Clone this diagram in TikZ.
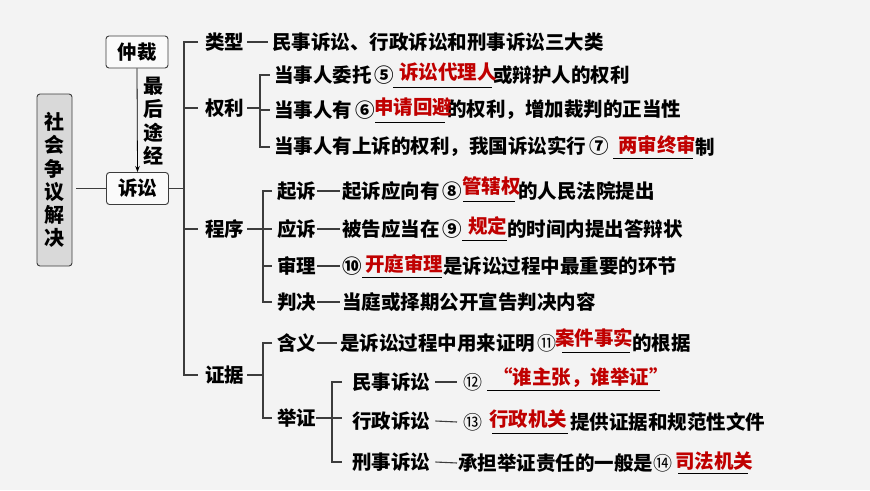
\documentclass[tikz,border=0pt]{standalone}
\usepackage{fontspec}
\setmainfont{Noto Sans CJK SC}[BoldFont={Noto Sans CJK SC Black}]
\usetikzlibrary{arrows.meta}
\definecolor{bg}{RGB}{243,243,243}
\definecolor{lc}{RGB}{60,60,60}
\definecolor{ansred}{RGB}{192,0,0}
\definecolor{rootf}{RGB}{217,217,217}
\definecolor{boxf}{RGB}{250,250,250}
\tikzset{
  ln/.style={draw=lc, line width=1.1pt},
  ul/.style={draw=black, line width=0.9pt},
  t/.style={anchor=west, inner sep=0pt, font=\bfseries\fontsize{19.5}{22}\selectfont},
  ans/.style={t, text=ansred},
  num/.style={anchor=west, inner sep=0pt, font=\fontsize{19}{22}\selectfont},
  rootbox/.style={draw=lc, fill=rootf, rounded corners=3pt, line width=0.9pt,
    minimum width=35pt, minimum height=172pt, inner sep=0pt, align=center,
    font=\bfseries\fontsize{20}{23.2}\selectfont},
  catbox/.style={draw=lc, fill=boxf, rounded corners=3pt, line width=0.9pt,
    minimum width=62pt, minimum height=32pt, inner sep=0pt,
    font=\bfseries\fontsize{19.5}{22}\selectfont},
  vtext/.style={inner sep=0pt, align=center, font=\bfseries\fontsize{20}{23.2}\selectfont}
}
\begin{document}
\begin{tikzpicture}[x=1pt,y=-1pt]
\fill[bg] (0,0) rectangle (870,490);
\useasboundingbox (0,0) rectangle (870,490);

% left part
\node[rootbox] (root) at (54.5,180) {社\\会\\争\\议\\解\\决};
\node[catbox] (zc) at (137,52) {仲裁};
\node[catbox] (ss) at (137.5,188.5) {诉讼};
\draw[-{Stealth[length=6pt,width=4.5pt]}, line width=0.8pt, black] (zc.south) -- (ss.north);
\node[vtext] (zj) at (153,121) {最\\后\\途\\经};
\coordinate (rs) at ([xshift=4pt]root.east |- ss.west);
\draw[ln] (rs) -- (ss.west);
\coordinate (tk) at (184,188.5);
\draw[ln] (ss.east) -- (tk);

% level 2 labels
\node[t] (lx) at (205,42) {类型};
\node[t] (ql) at (205,108) {权利};
\node[t] (cx) at (205,229) {程序};
\node[t] (zjj) at (205,375) {证据};
\draw[ln] ([xshift=-7pt]lx.west) -| (tk |- zjj.west) -- ([xshift=-7pt]zjj.west);
\draw[ln] (tk |- ql.west) -- ([xshift=-7pt]ql.west);
\draw[ln] (tk |- cx.west) -- ([xshift=-7pt]cx.west);

% 类型
\node[t] (lx1) at (272,42) {民事诉讼、行政诉讼和刑事诉讼三大类};
\draw[ln] ([xshift=3pt]lx.east) -- ([xshift=-4pt]lx1.west);

% 权利
\node[t] (q1) at (274,75) {当事人委托\,⑤};
\node[t] (q1b) at (493,75) {或辩护人的权利};
\node[ans] (a5) at (399,72) {诉讼代理人};
\draw[ul] (393,87) -- (492,87);
\node[t] (q2) at (274,110) {当事人有\,⑥};
\node[t] (q2b) at (447,110) {的权利，增加裁判的正当性};
\node[ans] (a6) at (374,107) {申请回避};
\draw[ul] (375,122) -- (445,122);
\node[t] (q3) at (274,147) {当事人有上诉的权利，我国诉讼实行\,⑦};
\node[t] (q3b) at (695,147) {制};
\node[ans] (a7) at (618,145) {两审终审};
\draw[ul] (613,158) -- (693,158);
\coordinate (qv) at (260,108);
\draw[ln] ([xshift=3pt]ql.east) -- (qv);
\draw[ln] ([xshift=-4pt]q1.west) -| (qv |- q3.west) -- ([xshift=-4pt]q3.west);
\draw[ln] (qv |- q2.west) -- ([xshift=-4pt]q2.west);

% 程序
\coordinate (cv) at (263,229);
\node[t] (s1) at (277,191) {起诉};
\node[t] (s2) at (277,229) {应诉};
\node[t] (s3) at (277,266) {审理};
\node[t] (s4) at (277,302) {判决};
\draw[ln] ([xshift=3pt]cx.east) -- (cv);
\draw[ln] ([xshift=-5pt]s1.west) -| (cv |- s4.west) -- ([xshift=-5pt]s4.west);
\draw[ln] (cv |- s2.west) -- ([xshift=-5pt]s2.west);
\draw[ln] (cv |- s3.west) -- ([xshift=-5pt]s3.west);

\node[t] (s1t) at (342,191) {起诉应向有\,⑧};
\node[t] (s1b) at (518,191) {的人民法院提出};
\node[ans] (a8) at (462,186) {管辖权};
\draw[ul] (463,201) -- (515,201);
\draw[ln] ([xshift=1pt]s1.east) -- ([xshift=-2pt]s1t.west);

\node[t] (s2t) at (342,229) {被告应当在\,⑨};
\node[t] (s2b) at (507,229) {的时间内提出答辩状};
\node[ans] (a9) at (468,226) {规定};
\draw[ul] (462,240) -- (507,240);
\draw[ln] ([xshift=1pt]s2.east) -- ([xshift=-2pt]s2t.west);

\node[t] (s3t) at (342,266) {⑩};
\node[t] (s3b) at (443,266) {是诉讼过程中最重要的环节};
\node[ans] (a10) at (365,264) {开庭审理};
\draw[ul] (362,277) -- (442,277);
\draw[ln] ([xshift=1pt]s3.east) -- ([xshift=-2pt]s3t.west);

\node[t] (s4t) at (342,302) {当庭或择期公开宣告判决内容};
\draw[ln] ([xshift=1pt]s4.east) -- ([xshift=-2pt]s4t.west);

% 证据
\coordinate (ev) at (263,375);
\node[t] (e1) at (277,343) {含义};
\node[t] (e2) at (277,418) {举证};
\draw[ln] ([xshift=3pt]zjj.east) -- (ev);
\draw[ln] ([xshift=-5pt]e1.west) -| (ev |- e2.west) -- ([xshift=-5pt]e2.west);

\node[t] (e1t) at (340,343) {是诉讼过程中用来证明};
\node[num] (n11) at (537,343) {⑪};
\node[t] (e1b) at (632,343) {的根据};
\node[ans] (a11) at (555,338) {案件事实};
\draw[ul] (562,352) -- (630,352);
\draw[ln] ([xshift=1pt]e1.east) -- ([xshift=-3pt]e1t.west);

\coordinate (jv) at (332,418);
\node[t] (j1) at (352,382) {民事诉讼};
\node[t] (j2) at (352,421) {行政诉讼};
\node[t] (j3) at (352,462) {刑事诉讼};
\draw[ln] ([xshift=-10pt]j1.west) -| (jv |- j3.west) -- ([xshift=-10pt]j3.west);
\draw[ln] (e2.east) -- ([xshift=-10pt]j2.west |- e2.east);

\node[num] (n12) at (463,382) {⑫};
\node[ans] (a12) at (493,378) {“谁主张，谁举证”};
\draw[ul] (487,390) -- (660,390);
\draw[ln] ([xshift=5pt]j1.east) -- ([xshift=-6pt]n12.west);

\node[num] (n13) at (463,422) {⑬};
\node[t] (j2b) at (570,422) {提供证据和规范性文件};
\node[ans] (a13) at (489,419) {行政机关};
\draw[ul] (492,433) -- (568,433);
\draw[ln] ([xshift=5pt]j2.east) -- ([xshift=-6pt]n13.west);

\node[t] (j3t) at (458,463) {承担举证责任的一般是};
\node[num] (n14) at (653,463) {⑭};
\node[ans] (a14) at (675,461) {司法机关};
\draw[ul] (678,473) -- (748,473);
\draw[ln] ([xshift=5pt]j3.east) -- ([xshift=-1pt]j3t.west);
\end{tikzpicture}
\end{document}
